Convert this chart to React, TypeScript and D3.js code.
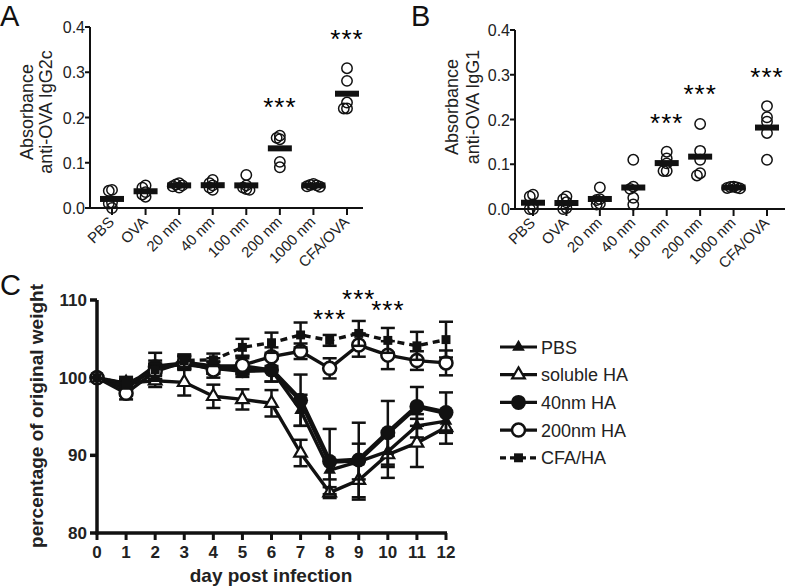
import React from 'react';
import * as d3 from 'd3';

const categories = ['PBS', 'OVA', '20 nm', '40 nm', '100 nm', '200 nm', '1000 nm', 'CFA/OVA'];
const yTicksAB = [0, 0.1, 0.2, 0.3, 0.4];

const igg2c = [
  [0.040, 0.038, 0.010, 0.000, 0.012],
  [0.050, 0.045, 0.035, 0.030, 0.025],
  [0.055, 0.052, 0.050, 0.048, 0.045],
  [0.062, 0.055, 0.050, 0.045, 0.040],
  [0.073, 0.050, 0.045, 0.042, 0.040],
  [0.160, 0.155, 0.152, 0.090, 0.102],
  [0.053, 0.051, 0.050, 0.048, 0.047],
  [0.309, 0.281, 0.233, 0.220, 0.220],
];
const igg1 = [
  [0.032, 0.028, 0.010, 0.000, 0.000],
  [0.028, 0.022, 0.015, 0.002, 0.000],
  [0.048, 0.022, 0.020, 0.012, 0.010],
  [0.110, 0.050, 0.045, 0.025, 0.010],
  [0.128, 0.113, 0.102, 0.085, 0.085],
  [0.190, 0.130, 0.110, 0.080, 0.075],
  [0.050, 0.049, 0.048, 0.047, 0.046],
  [0.230, 0.205, 0.195, 0.170, 0.110],
];
const sigA = [{ cat: '200 nm', v: 0.236 }, { cat: 'CFA/OVA', v: 0.387 }];
const sigB = [{ cat: '100 nm', v: 0.206 }, { cat: '200 nm', v: 0.27 }, { cat: 'CFA/OVA', v: 0.308 }];

const days = [0, 1, 2, 3, 4, 5, 6, 7, 8, 9, 10, 11, 12];
const yTicksC = [80, 90, 100, 110];
const pbsMean = [100, 99.0, 101.0, 102.0, 101.5, 101.5, 101.0, 95.8, 88.1, 89.2, 90.5, 93.8, 94.4];
const pbsErr = [0, 0.8, 1.2, 0.8, 1.0, 1.0, 1.5, 2.0, 1.2, 2.3, 2.0, 1.5, 1.2];
const solMean = [100, 99.3, 99.6, 99.4, 97.6, 97.2, 96.7, 90.3, 85.2, 86.8, 90.1, 91.6, 93.6];
const solErr = [0, 0.8, 0.8, 1.7, 1.5, 1.3, 1.7, 1.7, 0.7, 2.5, 3.0, 3.1, 2.1];
const nm40Mean = [100, 98.7, 101.4, 101.8, 101.3, 100.9, 101.0, 97.1, 89.2, 89.4, 92.9, 96.3, 95.5];
const nm40Err = [0, 1.0, 1.8, 0.8, 0.8, 0.8, 1.5, 3.3, 4.2, 4.8, 4.1, 2.5, 2.6];
const nm200Mean = [100, 98.0, 100.8, 102.0, 101.0, 101.6, 102.7, 103.4, 101.2, 104.2, 102.9, 102.2, 101.9];
const nm200Err = [0, 0.8, 1.0, 0.8, 1.0, 1.2, 1.2, 1.0, 1.3, 1.5, 1.8, 1.2, 1.6];
const cfaMean = [100, 99.2, 101.0, 102.2, 102.3, 103.9, 104.5, 105.5, 104.8, 105.7, 104.8, 104.1, 104.9];
const cfaErr = [0, 0.6, 0.8, 0.8, 0.8, 1.1, 1.3, 1.6, 0.7, 1.6, 1.6, 1.8, 2.3];
const sigC = [{ day: 8, v: 108.3 }, { day: 9, v: 110.9 }, { day: 10, v: 109.4 }];

const seriesNames = ['PBS', 'soluble HA', '40nm HA', '200nm HA', 'CFA/HA'];

const FONT = '"Liberation Sans", Arial, Helvetica, sans-serif';

function beeswarm(vals: number[], y: (v: number) => number, minDist: number, step: number) {
  const order = vals.map((v, i) => i).sort((a, b) => vals[b] - vals[a]);
  const placed: { x: number; y: number }[] = [];
  const out: number[] = new Array(vals.length).fill(0);
  for (const i of order) {
    const py = y(vals[i]);
    const cands = [0];
    for (let k = 1; k < 6; k++) { cands.push(-k * step, k * step); }
    let best = 0, bestD = -1;
    for (const c of cands) {
      const d = placed.length ? Math.min(...placed.map(p => Math.hypot(p.x - c, p.y - py))) : 99;
      if (d >= minDist) { best = c; bestD = d; break; }
      if (d > bestD) { bestD = d; best = c; }
    }
    out[i] = best; placed.push({ x: best, y: py });
  }
  return out;
}

function Stars({ x, yc, size }: { x: number; yc: number; size: number }) {
  return (
    <text x={x} y={yc + size * 0.57} fontSize={size} textAnchor="middle" fontFamily={FONT} letterSpacing={1}>***</text>
  );
}

function DotPanel({ data, x0, x1, y0, y1, xr0, xr1, ylab, sig, labelX1, labelX2, labelY, tickEnd }: any) {
  const x = d3.scalePoint<string>().domain(categories).range([xr0, xr1]);
  const y = d3.scaleLinear().domain([0, 0.4]).range([y0, y1]);
  return (
    <g fontFamily={FONT}>
      {data.map((vals: number[], ci: number) => {
        const cx = x(categories[ci])!;
        const offs = beeswarm(vals, y, 3.2, 3.2);
        const m = d3.mean(vals)!;
        return (
          <g key={ci}>
            {vals.map((v, i) => (
              <circle key={i} cx={cx + offs[i]} cy={y(v)} r={5.2} fill="none" stroke="#111" strokeWidth={1.5} />
            ))}
            <rect x={cx - 12} y={y(m) - 3} width={24} height={6} fill="#111" />
          </g>
        );
      })}
      <line x1={x0} x2={x0} y1={y(0.4)} y2={y(0) + 1} stroke="#111" strokeWidth={2} />
      <line x1={x0} x2={x1} y1={y(0)} y2={y(0)} stroke="#111" strokeWidth={2} />
      {yTicksAB.map(t => (
        <g key={t}>
          <line x1={x0 - 5} x2={x0} y1={y(t)} y2={y(t)} stroke="#111" strokeWidth={2} />
          <text x={tickEnd} y={y(t) + 6} fontSize={16} textAnchor="end" fill="#222">{t.toFixed(1)}</text>
        </g>
      ))}
      {categories.map(c => (
        <g key={c}>
          <line x1={x(c)} x2={x(c)} y1={y(0)} y2={y(0) + 7} stroke="#111" strokeWidth={2} />
          <text transform={`translate(${x(c)! + 3},${y(0) + 15}) rotate(-45)`} fontSize={15} textAnchor="end" fill="#222">{c}</text>
        </g>
      ))}
      <text transform={`translate(${labelX1},${labelY}) rotate(-90)`} fontSize={18} textAnchor="middle" fill="#222">Absorbance</text>
      <text transform={`translate(${labelX2},${labelY}) rotate(-90)`} fontSize={18} textAnchor="middle" fill="#222">{ylab}</text>
      {sig.map((s: any) => <Stars key={s.cat} x={x(s.cat)!} yc={y(s.v)} size={26} />)}
    </g>
  );
}

const sym = {
  triFilled: d3.symbol(d3.symbolTriangle, 70)()!,
  triOpen: d3.symbol(d3.symbolTriangle, 70)()!,
  square: d3.symbol(d3.symbolSquare, 80)()!,
};

function Marker({ kind, x, y }: { kind: number; x: number; y: number }) {
  if (kind === 0) return <path d={sym.triFilled} transform={`translate(${x},${y})`} fill="#111" />;
  if (kind === 1) return <path d={sym.triOpen} transform={`translate(${x},${y})`} fill="#fff" stroke="#111" strokeWidth={2.2} />;
  if (kind === 2) return <circle cx={x} cy={y} r={7.5} fill="#111" />;
  if (kind === 3) return <circle cx={x} cy={y} r={6.5} fill="#fff" stroke="#111" strokeWidth={2.5} />;
  return <path d={sym.square} transform={`translate(${x},${y})`} fill="#111" />;
}

function PanelC() {
  const x = d3.scaleLinear().domain([0, 12]).range([97, 446]);
  const y = d3.scaleLinear().domain([80, 110]).range([533, 300]);
  const series = [
    { m: pbsMean, e: pbsErr, w: 3.4, dash: undefined },
    { m: solMean, e: solErr, w: 3.4, dash: undefined },
    { m: nm40Mean, e: nm40Err, w: 4.8, dash: undefined },
    { m: nm200Mean, e: nm200Err, w: 3.4, dash: undefined },
    { m: cfaMean, e: cfaErr, w: 3.4, dash: '7,5' },
  ];
  const line = d3.line<number>().x((d, i) => x(days[i])).y(d => y(d));
  const order = [1, 0, 2, 3, 4];
  return (
    <g fontFamily={FONT}>
      {order.map(si => {
        const s = series[si];
        return (
          <g key={si}>
            {s.m.map((v, i) => s.e[i] > 0 ? (
              <g key={i} stroke="#111" strokeWidth={2.5}>
                <line x1={x(days[i])} x2={x(days[i])} y1={y(v - s.e[i])} y2={y(v + s.e[i])} />
                <line x1={x(days[i]) - 7} x2={x(days[i]) + 7} y1={y(v + s.e[i])} y2={y(v + s.e[i])} />
                <line x1={x(days[i]) - 7} x2={x(days[i]) + 7} y1={y(v - s.e[i])} y2={y(v - s.e[i])} />
              </g>
            ) : null)}
            <path d={line(s.m)!} fill="none" stroke="#111" strokeWidth={s.w} strokeDasharray={s.dash} strokeLinejoin="round" />
            {s.m.map((v, i) => <Marker key={i} kind={si} x={x(days[i])} y={y(v)} />)}
          </g>
        );
      })}
      <line x1={97} x2={97} y1={y(110)} y2={y(80) + 1.5} stroke="#111" strokeWidth={3.5} />
      <line x1={95.5} x2={447} y1={y(80)} y2={y(80)} stroke="#111" strokeWidth={3.5} />
      {yTicksC.map(t => (
        <g key={t}>
          <line x1={90} x2={97} y1={y(t)} y2={y(t)} stroke="#111" strokeWidth={3.5} />
          <text x={87} y={y(t) + 6} fontSize={17} fontWeight="bold" textAnchor="end" fill="#222">{t}</text>
        </g>
      ))}
      {days.map(d => (
        <g key={d}>
          <line x1={x(d)} x2={x(d)} y1={y(80)} y2={y(80) + 7} stroke="#111" strokeWidth={3} />
          <text x={x(d)} y={558} fontSize={17} fontWeight="bold" textAnchor="middle" fill="#222">{d}</text>
        </g>
      ))}
      <text x={271} y={582} fontSize={19} fontWeight="bold" textAnchor="middle" fill="#222">day post infection</text>
      <text transform={`translate(43,416) rotate(-90)`} fontSize={19} fontWeight="bold" textAnchor="middle" fill="#222">percentage of original weight</text>
      {sigC.map(s => <Stars key={s.day} x={x(s.day)} yc={y(s.v)} size={26} />)}
      {seriesNames.map((n, i) => {
        const ly = 347 + i * 27.7;
        return (
          <g key={n}>
            <line x1={500} x2={537} y1={ly} y2={ly} stroke="#111" strokeWidth={3.2} strokeDasharray={i === 4 ? '6,4' : undefined} />
            <Marker kind={i} x={518.5} y={ly} />
            <text x={541} y={ly + 6.5} fontSize={18} fill="#222">{n}</text>
          </g>
        );
      })}
    </g>
  );
}

export default function App() {
  return (
    <svg width={785} height={588} style={{ position: 'absolute', left: 0, top: 0, background: '#fff' }}>
      <rect width={785} height={588} fill="#fff" />
      <text x={0} y={26} fontSize={29} fontFamily={FONT} fill="#111">A</text>
      <text x={411} y={26} fontSize={29} fontFamily={FONT} fill="#111">B</text>
      <text x={0} y={295} fontSize={29} fontFamily={FONT} fill="#111">C</text>
      <DotPanel data={igg2c} x0={90} x1={363} y0={208} y1={27} xr0={112} xr1={347}
        ylab="anti-OVA IgG2c" sig={sigA} labelX1={33} labelX2={52} labelY={112} tickEnd={85} />
      <DotPanel data={igg1} x0={515} x1={785} y0={209} y1={30} xr0={533} xr1={767}
        ylab="anti-OVA IgG1" sig={sigB} labelX1={458} labelX2={479} labelY={107} tickEnd={510} />
      <PanelC />
    </svg>
  );
}
